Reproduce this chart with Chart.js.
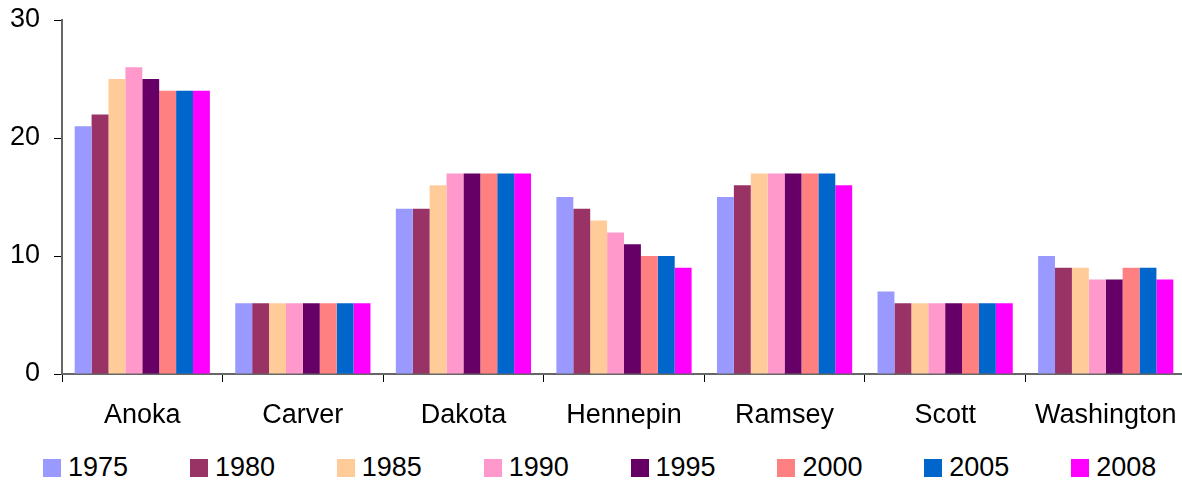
<!DOCTYPE html>
<html>
<head>
<meta charset="utf-8">
<script src="https://cdn.jsdelivr.net/npm/chart.js@4/dist/chart.umd.min.js"></script>
<style>
  html, body { margin: 0; padding: 0; background: #fff; overflow: hidden; }
  #wrap { position: relative; width: 1182px; height: 483px; overflow: hidden; }
  #chart { position: absolute; left: 0; top: 0; }
  #legend {
    position: absolute; left: 43px; top: 454px;
    display: flex; gap: 61.8px; align-items: center;
    font-family: "Liberation Sans", Arial, sans-serif; font-size: 27px; line-height: 27px; color: #000;
  }
  .item { display: flex; align-items: center; }
  .box { width: 18px; height: 18px; margin-right: 7px; }
</style>
</head>
<body>
<div id="wrap">
  <canvas id="chart" width="1190" height="440"></canvas>
  <div id="legend"></div>
</div>
<script>
// Counties along the x axis
const counties = ["Anoka", "Carver", "Dakota", "Hennepin", "Ramsey", "Scott", "Washington"];

// Years (one series each) and their colours
const years = ["1975", "1980", "1985", "1990", "1995", "2000", "2005", "2008"];
const colors = ["#9999FF", "#993366", "#FFCC99", "#FF99CC", "#660066", "#FF8080", "#0066CC", "#FF00FF"];

// Values per year, in county order
const v1975 = [21, 6, 14, 15, 15, 7, 10];
const v1980 = [22, 6, 14, 14, 16, 6, 9];
const v1985 = [25, 6, 16, 13, 17, 6, 9];
const v1990 = [26, 6, 17, 12, 17, 6, 8];
const v1995 = [25, 6, 17, 11, 17, 6, 8];
const v2000 = [24, 6, 17, 10, 17, 6, 9];
const v2005 = [24, 6, 17, 10, 17, 6, 9];
const v2008 = [24, 6, 17, 9, 16, 6, 8];
const seriesValues = [v1975, v1980, v1985, v1990, v1995, v2000, v2005, v2008];

// Y axis ticks
const yTicks = [0, 10, 20, 30];

const font = { family: "'Liberation Sans', Arial, sans-serif", size: 27 };

const datasets = years.map((year, i) => ({
  label: year,
  data: seriesValues[i],
  backgroundColor: colors[i],
  borderWidth: 0,
  categoryPercentage: 0.842,
  barPercentage: 1.0
}));

new Chart(document.getElementById('chart').getContext('2d'), {
  type: 'bar',
  data: { labels: counties, datasets: datasets },
  options: {
    responsive: false,
    animation: false,
    devicePixelRatio: 1,
    layout: { padding: { left: 0, right: 4, top: 20, bottom: 0 } },
    plugins: { legend: { display: false }, tooltip: { enabled: false } },
    scales: {
      x: {
        grid: { offset: true, drawOnChartArea: false, drawTicks: true, tickLength: 8, color: '#000', lineWidth: 1 },
        border: { display: true, color: '#666', width: 2 },
        ticks: { font: font, color: '#000', padding: 17, maxRotation: 0 },
        afterFit: (scale) => { scale.height = 66; scale.paddingLeft = 0; scale.paddingRight = 0; }
      },
      y: {
        min: yTicks[0],
        max: yTicks[yTicks.length - 1],
        afterBuildTicks: (scale) => { scale.ticks = yTicks.map(v => ({ value: v })); },
        grid: { drawOnChartArea: false, drawTicks: true, tickLength: 8, color: '#000', lineWidth: 1 },
        border: { display: true, color: '#666', width: 2 },
        ticks: { font: font, color: '#000', padding: 14 },
        afterFit: (scale) => { scale.width = 62; scale.paddingTop = 0; scale.paddingBottom = 0; }
      }
    }
  }
});

// HTML legend built from the same arrays
const legendEl = document.getElementById('legend');
years.forEach((year, i) => {
  const item = document.createElement('div');
  item.className = 'item';
  const box = document.createElement('span');
  box.className = 'box';
  box.style.background = colors[i];
  const txt = document.createElement('span');
  txt.textContent = year;
  item.appendChild(box);
  item.appendChild(txt);
  legendEl.appendChild(item);
});
</script>
</body>
</html>
